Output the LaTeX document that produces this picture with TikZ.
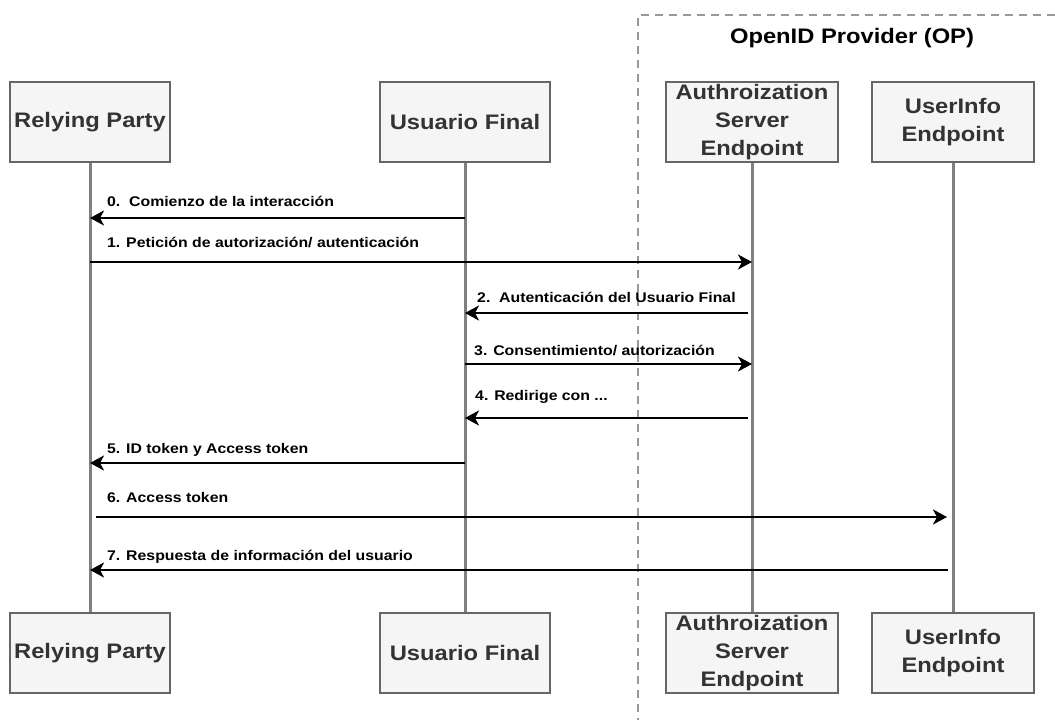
\documentclass[tikz,border=0pt]{standalone}
\usepackage{fontspec}
\setmainfont[FakeStretch=1.13]{Liberation Sans}
\usetikzlibrary{arrows.meta}
\definecolor{boxfill}{HTML}{F5F5F5}
\definecolor{boxline}{HTML}{666666}
\definecolor{boxtext}{HTML}{333333}
\definecolor{lifegray}{HTML}{808080}
\definecolor{opgray}{HTML}{999999}
\begin{document}
\begin{tikzpicture}[x=1pt,y=-1pt,
    actor/.style={draw=boxline, fill=boxfill, line width=1.2pt, minimum height=80pt, inner sep=0pt,
      align=center, text=boxtext, font=\fontsize{21}{28}\selectfont\bfseries},
    life/.style={draw=lifegray, line width=3pt},
    msg/.style={draw=black, line width=2.4pt, -{Stealth[length=14pt,width=15pt,inset=4pt]}},
    lbl/.style={anchor=west, inner sep=0pt, font=\fontsize{14}{16}\selectfont\bfseries}]
    \useasboundingbox (0,0) rectangle (1055,720);
    \draw [opgray, line width=1.6pt, dash pattern=on 8pt off 6pt] (1055,15) -- (638,15) -- (638,720);
    \node [font=\fontsize{21}{26}\selectfont\bfseries] (op) at (852,38) {OpenID Provider (OP)};
    \node [actor, minimum width=160pt] (rp) at (90,122) {Relying Party};
    \node [actor, minimum width=170pt] (uf) at (465,122) {Usuario Final};
    \node [actor, minimum width=172pt] (auth) at (752,122) {Authroization\\Server\\Endpoint};
    \node [actor, minimum width=162pt] (ui) at (953,122) {UserInfo\\Endpoint};
    \node [actor, minimum width=160pt] (rpb) at (90,653) {Relying Party};
    \node [actor, minimum width=170pt] (ufb) at (465,653) {Usuario Final};
    \node [actor, minimum width=172pt] (authb) at (752,653) {Authroization\\Server\\Endpoint};
    \node [actor, minimum width=162pt] (uib) at (953,653) {UserInfo\\Endpoint};
    \draw [life] (rp) -- (rpb);
    \draw [life] (uf) -- (ufb);
    \draw [life] (auth) -- (authb);
    \draw [life] (ui) -- (uib);
    \draw [msg] (uf |- 0,218) -- node [lbl, pos=1, xshift=16, yshift=17] {0.\ \ Comienzo de la interacción} (rp |- 0,218);
    \draw [msg] (rp |- 0,262) -- node [lbl, pos=0, xshift=16, yshift=19] {1. Petición de autorización/ autenticación} (auth |- 0,262);
    \draw [msg, shorten <=4pt] (auth |- 0,313) -- node [lbl, pos=1, xshift=11, yshift=16] {2.\ \ Autenticación del Usuario Final} (uf |- 0,313);
    \draw [msg] (uf |- 0,364) -- node [lbl, pos=0, xshift=8, yshift=13] {3. Consentimiento/ autorización} (auth |- 0,364);
    \draw [msg, shorten <=4pt] (auth |- 0,418) -- node [lbl, pos=1, xshift=9, yshift=21] {4. Redirige con ...} (uf |- 0,418);
    \draw [msg] (uf |- 0,463) -- node [lbl, pos=1, xshift=16, yshift=13] {5. ID token y Access token} (rp |- 0,463);
    \draw [msg, shorten <=6pt, shorten >=6pt] (rp |- 0,517) -- node [lbl, pos=0, xshift=16, yshift=20] {6. Access token} (ui |- 0,517);
    \draw [msg, shorten <=5pt] (ui |- 0,570) -- node [lbl, pos=1, xshift=16, yshift=13] {7. Respuesta de información del usuario} (rp |- 0,570);
\end{tikzpicture}
\end{document}
